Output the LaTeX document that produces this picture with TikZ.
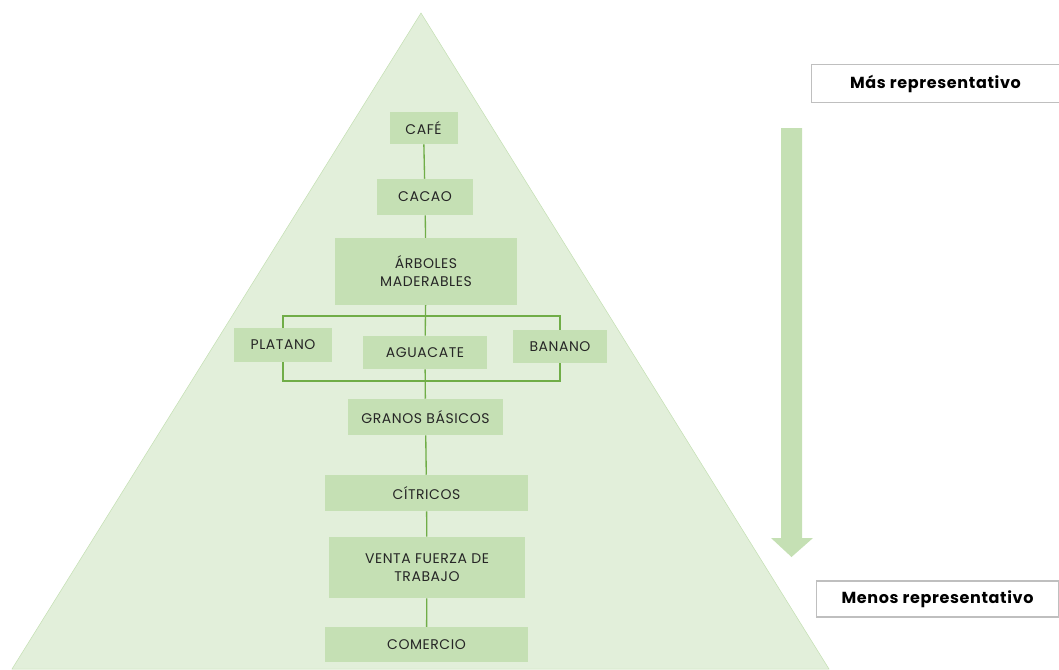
\documentclass[tikz,border=0pt]{standalone}
\usepackage{fontspec}
\setmainfont{Poppins}[LetterSpace=4]
\definecolor{pyrfill}{HTML}{E2EFDA}
\definecolor{pyredge}{HTML}{C5E0B4}
\definecolor{boxfill}{HTML}{C5E0B4}
\definecolor{linkgreen}{HTML}{70AD47}
\tikzset{
  crop/.style={fill=boxfill, inner sep=0pt, align=center, text=black!85, font=\fontsize{10.5}{13.5}\selectfont},
  tag/.style={draw=black!25, fill=white, line width=0.8pt, inner sep=0pt, font=\fontsize{12}{14}\selectfont\bfseries},
  link/.style={draw=linkgreen, line width=1pt}
}
\begin{document}
\begin{tikzpicture}[x=0.75pt, y=-0.75pt]
\useasboundingbox (0,0) rectangle (1059,669);
\fill[pyrfill, draw=pyredge] (421,13) -- (829,669) -- (12,669) -- cycle;
\fill[boxfill] (781,128) -- (802,128) -- (802,538) -- (813,538) -- (791.5,557) -- (771,538) -- (781,538) -- cycle;
\node[tag, minimum width=186pt, minimum height=29pt] (mas) at (935.5,83.5) {Más representativo};
\node[tag, minimum width=181pt, minimum height=27pt] (menos) at (937.5,599) {Menos representativo};
\node[crop, minimum width=51pt, minimum height=24pt] (cafe) at (423.5,128) {CAFÉ};
\node[crop, minimum width=72pt, minimum height=27pt] (cacao) at (425,197) {CACAO};
\node[crop, minimum width=136pt, minimum height=50pt] (arboles) at (426,271.5) {ÁRBOLES\\MADERABLES};
\node[crop, minimum width=73pt, minimum height=25pt] (platano) at (283,345) {PLATANO};
\node[crop, minimum width=93pt, minimum height=25pt] (aguacate) at (425,352.5) {AGUACATE};
\node[crop, minimum width=70pt, minimum height=25pt] (banano) at (560,346.5) {BANANO};
\node[crop, minimum width=116pt, minimum height=27pt] (granos) at (425.5,417) {GRANOS BÁSICOS};
\node[crop, minimum width=152pt, minimum height=27pt] (citricos) at (426.5,493) {CÍTRICOS};
\node[crop, minimum width=147pt, minimum height=46pt] (venta) at (427,567.5) {VENTA FUERZA DE\\TRABAJO};
\node[crop, minimum width=152pt, minimum height=26pt] (comercio) at (426.5,644.5) {COMERCIO};
\coordinate (top) at (425,316);
\coordinate (bot) at (425,381);
\draw[link] (cafe) -- (cacao);
\draw[link] (cacao) -- (arboles);
\draw[link] (arboles) -- (aguacate);
\draw[link] (platano.north) |- (top) -| (banano.north);
\draw[link] (platano.south) |- (bot) -| (banano.south);
\draw[link] (aguacate) -- (granos);
\draw[link] (granos) -- (citricos);
\draw[link] (citricos) -- (venta);
\draw[link] (venta) -- (comercio);
\end{tikzpicture}
\end{document}
